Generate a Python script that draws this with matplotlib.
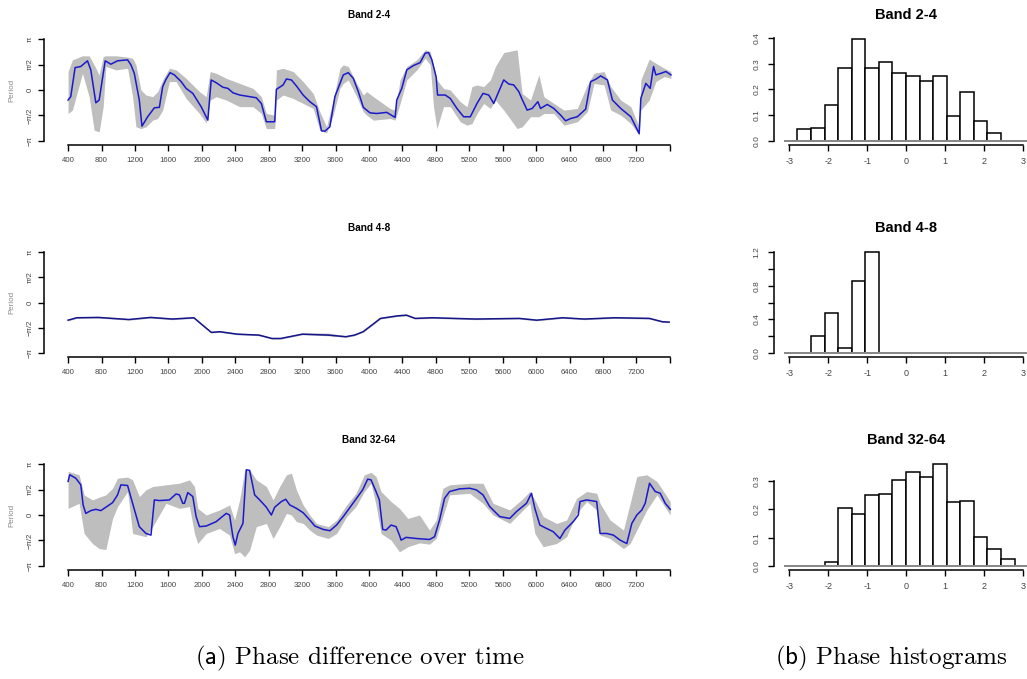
import numpy as np
import matplotlib
matplotlib.use("Agg")
import matplotlib.pyplot as plt

plt.rcParams['font.family'] = ['Liberation Sans', 'DejaVu Sans']
plt.rcParams['mathtext.fontset'] = 'cm'

# ---- phase difference over time (radians) ----
# Band 2-4
t24 = [400, 432, 484, 552, 632, 672, 732, 772, 844, 912, 992, 1112, 1152, 1192, 1252, 1284,
       1352, 1432, 1492, 1532, 1572, 1620, 1672, 1752, 1812, 1892, 1992, 2072, 2112, 2172,
       2252, 2312, 2372, 2452, 2572, 2652, 2712, 2772, 2872, 2892, 2972, 3012, 3072, 3132,
       3212, 3292, 3372, 3432, 3472, 3532, 3592, 3692, 3752, 3812, 3872, 3932, 4012, 4092,
       4212, 4312, 4332, 4392, 4452, 4532, 4612, 4672, 4712, 4752, 4804, 4820, 4912, 4972,
       5052, 5132, 5212, 5292, 5364, 5432, 5492, 5552, 5612, 5672, 5732, 5792, 5832, 5892,
       5952, 6020, 6052, 6132, 6212, 6292, 6352, 6412, 6492, 6592, 6652, 6712, 6772, 6852,
       6912, 7012, 7132, 7232, 7252, 7312, 7364, 7404, 7432, 7492, 7552, 7612]
ph24 = [-0.62, -0.41, 1.38, 1.45, 1.80, 1.24, -0.79, -0.62, 1.80, 1.59, 1.80, 1.86, 1.55, 1.03,
        -0.62, -2.23, -1.65, -1.10, -1.07, 0.21, 0.66, 1.07, 0.93, 0.52, 0.10, -0.21, -1.03,
        -1.86, 0.62, 0.45, 0.17, 0.10, -0.17, -0.31, -0.41, -0.48, -0.83, -1.96, -1.96, 0.04,
        0.31, 0.68, 0.62, 0.25, -0.31, -0.72, -1.03, -2.52, -2.54, -2.27, -0.41, 0.93, 1.07,
        0.72, -0.10, -1.07, -1.41, -1.45, -1.38, -1.69, -0.62, 0.10, 1.24, 1.51, 1.69, 2.27,
        2.31, 1.86, 0.79, -0.31, -0.31, -0.52, -1.14, -1.65, -1.65, -0.83, -0.21, -0.31, -0.83,
        -0.10, 0.62, 0.37, 0.31, -0.10, -0.58, -1.24, -1.14, -0.72, -1.14, -0.89, -1.14, -1.55,
        -1.90, -1.76, -1.65, -1.18, 0.52, 0.66, 0.87, 0.62, -0.62, -1.14, -1.65, -2.69, -0.52,
        0.41, 0.10, 1.45, 0.93, 1.03, 1.14, 0.93]
tb24 = [400, 452, 572, 652, 712, 772, 820, 852, 972, 1112, 1172, 1212, 1272, 1332, 1412, 1472,
        1532, 1612, 1692, 1812, 1972, 2052, 2100, 2172, 2292, 2452, 2612, 2712, 2772, 2872,
        2892, 2972, 3092, 3212, 3332, 3412, 3492, 3572, 3652, 3692, 3752, 3852, 3932, 3972,
        4052, 4252, 4312, 4372, 4452, 4572, 4672, 4732, 4772, 4812, 4892, 4972, 5092, 5172,
        5232, 5292, 5372, 5452, 5512, 5612, 5772, 5832, 5932, 6032, 6092, 6212, 6332, 6492,
        6612, 6692, 6812, 6892, 7012, 7132, 7232, 7252, 7352, 7432, 7532, 7612]
hi24 = [1.14, 1.86, 2.11, 2.11, 1.55, 0.93, 2.07, 2.11, 2.11, 2.03, 1.96, 1.55, 0.00, -0.31,
        -0.41, -0.10, 0.62, 1.34, 1.24, 0.72, -0.10, -0.41, 1.14, 1.03, 0.72, 0.41, 0.10, -0.41,
        -1.45, -1.55, 1.24, 1.34, 1.14, 0.52, -0.21, -1.34, -2.27, -0.62, 1.34, 1.55, 1.45,
        0.41, -0.31, -0.10, -0.41, -1.14, -1.24, 0.62, 1.45, 1.86, 2.48, 2.38, 1.45, 0.62, 0.10,
        0.00, -0.72, -1.03, 0.21, 0.31, 0.21, 0.62, 1.45, 2.31, 2.48, -0.21, -0.62, 0.93, -0.41,
        -0.83, -1.24, -1.14, 0.31, 1.03, 1.14, 0.21, -0.62, -1.03, -2.27, 0.62, 1.90, 1.65,
        1.34, 1.14]
lo24 = [-1.45, -1.24, 1.03, -0.41, -2.48, -2.58, -1.03, 1.45, 1.24, 1.34, -0.41, -2.27, -2.38,
        -2.27, -1.86, -1.76, -1.24, 0.52, 0.52, -0.52, -1.45, -2.03, -0.62, -0.41, -0.62, -1.03,
        -1.03, -1.45, -2.38, -2.38, -0.62, -0.31, -0.52, -0.83, -1.14, -2.48, -2.65, -1.55, 0.10,
        0.41, 0.62, -0.41, -1.34, -1.55, -1.86, -1.76, -1.86, -0.83, 0.62, 1.24, 1.96, 1.55,
        -1.03, -2.38, -1.03, -1.03, -1.96, -2.17, -2.07, -1.45, -0.83, -1.14, -0.62, -1.24, -2.38,
        -2.27, -1.65, -1.65, -1.45, -1.45, -2.17, -1.96, -1.34, 0.41, 0.31, -1.24, -1.55, -2.07,
        -2.79, -1.24, -0.62, 0.52, 0.83, 0.72]

# Band 4-8
t48 = [400, 504, 763, 1127, 1386, 1646, 1905, 2009, 2113, 2216, 2424, 2684, 2839, 2943, 3203,
       3514, 3722, 3826, 3929, 4033, 4137, 4344, 4448, 4552, 4759, 5278, 5797, 6005, 6316,
       6576, 6939, 7355, 7511, 7590]
ph48 = [-1.10, -0.95, -0.93, -1.06, -0.93, -1.03, -0.95, -1.41, -1.86, -1.82, -1.97, -2.03,
        -2.24, -2.24, -1.97, -2.03, -2.13, -2.03, -1.82, -1.41, -0.99, -0.83, -0.79, -0.99,
        -0.95, -1.03, -0.99, -1.10, -0.95, -1.03, -0.95, -0.99, -1.20, -1.22]
hi48 = [-1.04, -0.89, -0.86, -1.00, -0.86, -0.97, -0.89, -1.34, -1.80, -1.76, -1.91, -1.96,
        -2.18, -2.18, -1.90, -1.90, -2.07, -1.97, -1.76, -1.35, -0.93, -0.76, -0.72, -0.93,
        -0.89, -0.97, -0.93, -1.04, -0.89, -0.97, -0.89, -0.93, -1.14, -1.16]
lo48 = [-1.14, -0.99, -0.97, -1.10, -0.97, -1.07, -0.99, -1.45, -1.90, -1.86, -2.01, -2.07,
        -2.28, -2.28, -2.01, -2.07, -2.17, -2.07, -1.86, -1.45, -1.03, -0.87, -0.83, -1.03,
        -0.99, -1.07, -1.03, -1.14, -0.99, -1.07, -0.99, -1.03, -1.24, -1.26]

# Band 32-64
t3264 = [400, 420, 492, 552, 580, 612, 672, 732, 792, 852, 932, 992, 1032, 1112, 1172, 1252,
         1332, 1392, 1432, 1492, 1612, 1692, 1732, 1772, 1792, 1832, 1892, 1932, 1972, 2052,
         2172, 2292, 2332, 2372, 2400, 2432, 2492, 2532, 2572, 2632, 2692, 2772, 2832, 2872,
         2952, 3004, 3052, 3132, 3212, 3292, 3352, 3452, 3532, 3612, 3692, 3764, 3924, 3984,
         4024, 4084, 4124, 4164, 4204, 4264, 4324, 4364, 4384, 4444, 4564, 4724, 4784, 4844,
         4904, 4964, 5084, 5204, 5284, 5364, 5444, 5564, 5684, 5764, 5884, 5944, 5984, 6044,
         6124, 6204, 6284, 6344, 6444, 6504, 6524, 6604, 6724, 6764, 6844, 6924, 7004, 7084,
         7144, 7204, 7264, 7304, 7356, 7424, 7484, 7544, 7604]
ph3264 = [2.07, 2.48, 2.27, 1.86, 0.62, 0.10, 0.27, 0.35, 0.27, 0.48, 0.76, 1.24, 1.86, 1.82,
          0.72, -0.72, -1.14, -1.24, 0.93, 0.89, 0.93, 1.30, 1.24, 0.72, 0.72, 1.38, 1.14,
          -0.10, -0.72, -0.68, -0.41, 0.10, 0.00, -1.34, -1.86, -1.14, -0.52, 2.79, 2.75, 1.24,
          0.93, 0.48, 0.00, 0.48, 0.83, 0.97, 0.62, 0.41, 0.14, -0.31, -0.68, -0.89, -0.97,
          -0.62, -0.10, 0.41, 1.55, 2.21, 2.17, 1.45, 0.93, -0.89, -0.93, -0.62, -0.72, -1.24,
          -1.55, -1.38, -1.45, -1.51, -1.34, -0.31, 1.03, 1.45, 1.61, 1.65, 1.55, 1.24, 0.52,
          -0.10, -0.21, 0.21, 0.72, 1.34, 0.41, -0.62, -0.83, -1.03, -1.45, -0.93, -0.41, 0.00,
          0.83, 0.93, 0.83, -1.14, -1.14, -1.24, -1.55, -1.76, -0.52, 0.00, 0.31, 0.72, 1.96,
          1.45, 1.34, 0.72, 0.35]
tb3264 = [400, 532, 592, 692, 772, 852, 932, 992, 1112, 1172, 1252, 1332, 1412, 1572, 1732,
          1852, 1912, 1952, 2052, 2212, 2332, 2392, 2452, 2512, 2572, 2652, 2772, 2852, 2932,
          3012, 3072, 3132, 3212, 3292, 3372, 3512, 3612, 3732, 3844, 3944, 4024, 4084, 4144,
          4264, 4364, 4464, 4604, 4724, 4804, 4884, 4964, 5204, 5364, 5484, 5684, 5844, 5924,
          5984, 6084, 6244, 6364, 6484, 6604, 6724, 6764, 6884, 7044, 7124, 7204, 7324, 7444,
          7604]
hi3264 = [2.69, 2.48, 1.24, 0.93, 1.10, 1.24, 1.65, 2.27, 2.34, 2.17, 1.14, 1.55, 1.76, 1.86,
          1.96, 2.17, 1.76, 0.41, 0.00, 0.31, 0.62, -0.31, 0.93, 2.75, 2.79, 2.17, 1.76, 0.93,
          1.76, 2.48, 2.58, 1.55, 0.62, 0.00, -0.52, -0.72, -0.31, 0.62, 1.34, 2.48, 2.63, 2.38,
          1.45, 0.83, 0.41, -0.21, 0.00, -0.93, -0.31, 1.65, 1.86, 1.96, 1.96, 0.72, 0.31, 1.03,
          1.45, 0.93, -0.10, -0.52, -0.31, 1.03, 1.45, 1.34, 0.72, -0.31, -0.93, 0.72, 2.38,
          2.48, 2.07, 0.83]
lo3264 = [0.41, 0.72, -1.14, -1.76, -2.07, -2.13, -0.21, 0.52, 1.45, -1.14, -1.24, -1.34, -0.72,
          0.72, 0.41, 0.52, -1.14, -1.76, -1.14, -0.83, -1.24, -2.38, -2.27, -2.58, -2.17, -0.72,
          -0.52, -1.45, -0.72, 0.10, 0.00, -0.41, -0.52, -0.93, -1.24, -1.45, -1.14, -0.10, 0.52,
          1.45, 1.96, 0.62, -1.14, -1.55, -2.27, -1.96, -1.72, -1.80, -1.45, -0.10, 1.24, 1.34,
          0.72, 0.00, -0.52, 0.31, 0.72, -1.14, -1.96, -1.76, -1.34, 0.10, 0.83, 0.31, -1.24,
          -1.45, -2.07, -1.76, -0.93, 0.31, 1.24, 0.00]

# ---- phase histograms (density, 18 bins over [-pi, pi]) ----
dens24 = [0.0, 0.046, 0.052, 0.138, 0.283, 0.396, 0.285, 0.305, 0.263, 0.253, 0.232, 0.253,
          0.095, 0.189, 0.078, 0.031, 0.0, 0.0]
dens48 = [0.0, 0.0, 0.197, 0.472, 0.055, 0.854, 1.20, 0.0, 0.0, 0.0, 0.0, 0.0, 0.0, 0.0, 0.0,
          0.0, 0.0, 0.0]
dens3264 = [0.0, 0.0, 0.0, 0.015, 0.205, 0.184, 0.25, 0.255, 0.305, 0.331, 0.313, 0.36, 0.225,
            0.23, 0.104, 0.059, 0.025, 0.0]

bands = ['Band 2-4', 'Band 4-8', 'Band 32-64']
time_ticks = list(range(400, 7601, 400))
time_labels = [str(v) for v in time_ticks[:-1]] + ['']
phase_ticks = [-np.pi, -np.pi / 2, 0, np.pi / 2, np.pi]
phase_labels = ['\u2212\u03c0', '\u2212\u03c0/2', '0', '\u03c0/2', '\u03c0']
hist_yticks = [[0.0, 0.1, 0.2, 0.3, 0.4],
               [0.0, 0.2, 0.4, 0.6, 0.8, 1.0, 1.2],
               [0.0, 0.1, 0.2, 0.3]]
hist_ylabels = [['0.0', '0.1', '0.2', '0.3', '0.4'],
                ['0.0', '', '0.4', '', '0.8', '', '1.2'],
                ['0.0', '0.1', '0.2', '0.3']]

W, H = 1027, 679
fig = plt.figure(figsize=(W / 100, H / 100), dpi=100)


def px_axes(l, t, r, b):
    return fig.add_axes([l / W, 1 - b / H, (r - l) / W, (b - t) / H])


def r_style(ax, xb, yb):
    for s in ['top', 'right']:
        ax.spines[s].set_visible(False)
    ax.spines['left'].set_bounds(*yb)
    ax.spines['bottom'].set_bounds(*xb)
    for s in ['left', 'bottom']:
        ax.spines[s].set_linewidth(1.1)
    ax.patch.set_alpha(0)
    ax.tick_params(direction='out', length=4.5, width=1.0, labelcolor='#444444')


rows = [(35, 145), (248, 357), (460, 570)]
lines = [(t24, ph24, tb24, lo24, hi24, '#1a1acc'),
         (t48, ph48, t48, lo48, hi48, '#14148c'),
         (t3264, ph3264, tb3264, lo3264, hi3264, '#1a1acc')]
dens_all = [dens24, dens48, dens3264]
edges = np.linspace(-np.pi, np.pi, 19)

for i, (top, bot) in enumerate(rows):
    # time series panel
    ax = px_axes(44, top, 694, bot)
    t, ph, tb, lo, hi, col = lines[i]
    ax.fill_between(tb, lo, hi, color='#bebebe', lw=0)
    ax.plot(t, ph, color=col, lw=1.1)
    ax.set_xlim(112, 7888)
    ax.set_ylim(-np.pi * 1.08, np.pi * 1.08)
    r_style(ax, (400, 7600), (-np.pi, np.pi))
    ax.set_xticks(time_ticks)
    ax.set_xticklabels(time_labels, fontsize=5.6)
    ax.set_yticks(phase_ticks)
    ax.set_yticklabels(phase_labels, fontsize=5.6, rotation=90, va='center')
    ax.tick_params(axis='x', pad=4)
    ax.tick_params(axis='y', pad=3)
    ax.set_title(bands[i], fontsize=7.2, fontweight='bold', pad=12)
    fig.text(12 / W, 1 - (top + bot) / 2 / H, 'Period', rotation=90, fontsize=5.8,
             color='#8a8a8a', ha='center', va='center')

    # histogram panel
    d = dens_all[i]
    axh = px_axes(774, top, 1038, bot)
    axh.bar(edges[:-1], d, width=np.diff(edges), align='edge', facecolor='white',
            edgecolor='black', lw=1.1, zorder=2)
    axh.plot([-np.pi, np.pi], [0, 0], color='#8c8c8c', lw=1.4, zorder=3,
             solid_capstyle='butt')
    ymax = max(d)
    axh.set_xlim(-np.pi * 1.08, np.pi * 1.08)
    axh.set_ylim(-0.04 * ymax, 1.04 * ymax)
    yt = hist_yticks[i]
    r_style(axh, (-3, 3), (yt[0], yt[-1]))
    axh.set_xticks(range(-3, 4))
    axh.set_xticklabels([str(v) for v in range(-3, 4)], fontsize=6.5)
    axh.set_yticks(yt)
    axh.set_yticklabels(hist_ylabels[i], fontsize=6.0, rotation=90, va='center')
    axh.tick_params(axis='x', pad=4)
    axh.tick_params(axis='y', pad=5)
    axh.set_title(bands[i], fontsize=10.5, fontweight='bold', pad=11.5)

fig.text(360 / W, 1 - 658 / H, r'$\mathsf{(a)}$ Phase difference over time',
         family='cmr10', fontsize=18, ha='center', va='center')
fig.text(891 / W, 1 - 658 / H, r'$\mathsf{(b)}$ Phase histograms',
         family='cmr10', fontsize=18, ha='center', va='center')

fig.savefig('out.png', dpi=100)
